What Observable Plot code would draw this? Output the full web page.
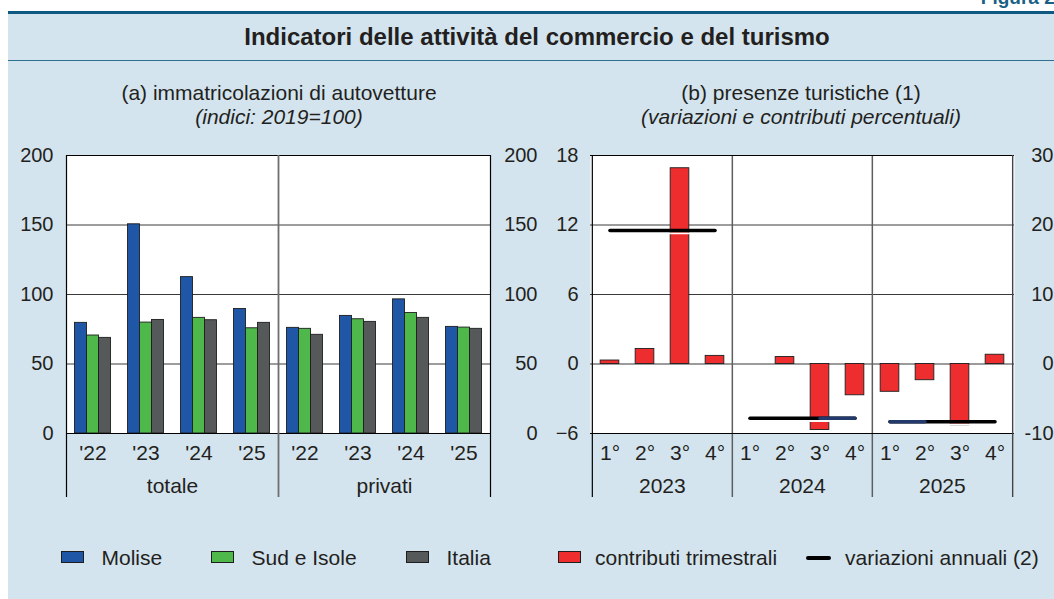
<!DOCTYPE html>
<html><head><meta charset="utf-8">
<script src="https://cdn.jsdelivr.net/npm/d3@7"></script>
<script src="https://cdn.jsdelivr.net/npm/@observablehq/plot@0.6"></script>
<style>
html,body{margin:0;padding:0;overflow:hidden;background:#fff}
#root{position:relative;width:1054px;height:599px;font-family:"Liberation Sans",Arial,sans-serif;color:#231f20;overflow:hidden}
</style></head><body><div id="root"></div>
<script>
// ---------- data: panel (a) ----------
const groups = ["totale", "privati"];
const years = ["'22", "'23", "'24", "'25"];
const series = ["Molise", "Sud e Isole", "Italia"];
const molise = [79.6, 150.5, 112.5, 89.6, 76.0, 84.6, 96.5, 76.7];
const sud    = [70.5, 79.8, 83.2, 75.7, 75.3, 82.2, 86.7, 76.2];
const italia = [68.8, 81.7, 81.5, 79.6, 71.0, 80.3, 83.2, 75.3];
const yTicksA = [0, 50, 100, 150, 200];

// ---------- data: panel (b) ----------
const years2 = ["2023", "2024", "2025"];
const quarters = ["1°", "2°", "3°", "4°"];
const contributi = [0.3, 1.3, 16.9, 0.7, 0.0, 0.6, -5.7, -2.7, -2.4, -1.4, -5.3, 0.8];
const variazioni = [19.2, -7.8, -8.3];
const yTicksB = [-6, 0, 6, 12, 18];
const yTicksB2 = [-10, 0, 10, 20, 30];
const navySpans = [["2024", "3°", "4°"], ["2025", "1°", "2°"]];

// ---------- styles ----------
const seriesColors = ["#1f56a5", "#4fb84b", "#56595a"];
const red = "#ee2d2e";
const bg = "#d3e4ee";
const ink = "#231f20";

const root = document.getElementById("root");
function el(tag, css, text) {
  const e = document.createElement(tag);
  e.style.cssText = css;
  if (text != null) e.textContent = text;
  root.appendChild(e);
  return e;
}
// background and rules
el("div", `position:absolute;left:8px;top:12px;right:0;bottom:0;background:${bg}`);
el("div", "position:absolute;left:8px;top:10.5px;right:0;height:3px;background:#0f5a82");
el("div", "position:absolute;left:8px;top:59.5px;right:0;height:1.5px;background:#2e6f8f");
el("div", "position:absolute;right:-6px;top:-12px;font-weight:bold;font-size:19px;line-height:19px;color:#1a5f86;white-space:nowrap", "Figura 2.");
// titles
el("div", "position:absolute;left:537px;top:25px;transform:translateX(-50%);font-weight:bold;font-size:24px;line-height:24px;white-space:nowrap", "Indicatori delle attività del commercio e del turismo");
el("div", "position:absolute;left:279px;top:81.5px;transform:translateX(-50%);font-size:21px;line-height:21px;white-space:nowrap", "(a) immatricolazioni di autovetture");
el("div", "position:absolute;left:279px;top:105.5px;transform:translateX(-50%);font-size:21px;line-height:21px;font-style:italic;white-space:nowrap", "(indici: 2019=100)");
el("div", "position:absolute;left:801px;top:81.5px;transform:translateX(-50%);font-size:21px;line-height:21px;white-space:nowrap", "(b) presenze turistiche (1)");
el("div", "position:absolute;left:801px;top:105.5px;transform:translateX(-50%);font-size:21px;line-height:21px;font-style:italic;white-space:nowrap", "(variazioni e contributi percentuali)");

// ---------- panel (a) ----------
const W_A = 545, H = 370, mT = 15, mB = 77, mL_A = 66, mR_A = 55;
const keysA = groups.flatMap(g => years.map(y => g + "|" + y));
const valuesA = [molise, sud, italia];
const rowsA = series.flatMap((s, si) => keysA.map((k, ki) => ({key: k, series: s, si, value: valuesA[si][ki]})));
const bwA = (W_A - mL_A - mR_A) / keysA.length;
const barWA = 12;
const padA = (bwA - series.length * barWA) / 2;

const plotStyle = {fontFamily: '"Liberation Sans", Arial, sans-serif', fontSize: "20px", color: ink, background: "transparent", overflow: "visible"};

const plotA = Plot.plot({
  width: W_A, height: H,
  marginTop: mT, marginBottom: mB, marginLeft: mL_A, marginRight: mR_A,
  style: plotStyle,
  x: {type: "band", domain: keysA, padding: 0, axis: null},
  y: {domain: [0, 200], axis: null},
  marks: [
    Plot.frame({fill: "white", stroke: "none"}),
    Plot.ruleY([50, 100, 150], {stroke: "#3a3a3a", strokeWidth: 1}),
    ...series.map((s, si) => Plot.barY(rowsA.filter(d => d.si === si), {
      x: "key", y: "value", fill: seriesColors[si], stroke: "#1e1e1e", strokeWidth: 0.9,
      insetLeft: padA + si * barWA, insetRight: bwA - padA - (si + 1) * barWA
    })),
    Plot.ruleY([0], {stroke: "#000", strokeWidth: 1.2}),
    Plot.ruleY([200], {stroke: "#000", strokeWidth: 1.2}),
    Plot.ruleX([keysA[0]], {dx: -bwA / 2, stroke: "#000", strokeWidth: 1.2, insetBottom: -64}),
    Plot.ruleX([keysA[4]], {dx: -bwA / 2, stroke: "#6e6e6e", strokeWidth: 1.8, insetBottom: -64}),
    Plot.ruleX([keysA[7]], {dx: bwA / 2, stroke: "#000", strokeWidth: 1.2, insetBottom: -64}),
    Plot.axisX({domain: keysA, tickFormat: d => d.split("|")[1], tickSize: 0, tickPadding: 12, fontSize: 21, label: null}),
    Plot.text(groups, {x: g => g + "|" + years[2], dx: -bwA / 2, frameAnchor: "bottom", dy: 59, text: d => d, fontSize: 21, fill: ink}),
    Plot.axisY({anchor: "left", ticks: yTicksA, tickSize: 0, tickPadding: 13, fontSize: 20, label: null}),
    Plot.axisY({anchor: "right", ticks: yTicksA, tickSize: 0, tickPadding: 47, textAnchor: "end", fontSize: 20, label: null})
  ]
});
plotA.style.position = "absolute"; plotA.style.left = "0px"; plotA.style.top = "140px";
root.appendChild(plotA);

// ---------- panel (b) ----------
const W_B = 509, mL_B = 45, mR_B = 40;
const ratio = yTicksB[yTicksB.length - 1] / yTicksB2[yTicksB2.length - 1];
const keysB = years2.flatMap(y => quarters.map(q => y + "|" + q));
const rowsB = keysB.map((k, i) => ({key: k, value: contributi[i]}));
const annualRows = years2.flatMap((y, i) => quarters.map(q => ({key: y + "|" + q, year: y, value: variazioni[i] * ratio})));
const navyRows = navySpans.flatMap(([y, q1, q2], i) => [q1, q2].map(q => ({key: y + "|" + q, seg: i, value: variazioni[years2.indexOf(y)] * ratio})));
const bwB = (W_B - mL_B - mR_B) / keysB.length;
const barWB = 19;
const insB = (bwB - barWB) / 2;

const plotB = Plot.plot({
  width: W_B, height: H,
  marginTop: mT, marginBottom: mB, marginLeft: mL_B, marginRight: mR_B,
  style: plotStyle,
  x: {type: "band", domain: keysB, padding: 0, axis: null},
  y: {domain: [yTicksB[0], yTicksB[yTicksB.length - 1]], axis: null},
  marks: [
    Plot.frame({fill: "white", stroke: "none"}),
    Plot.ruleY([6, 12], {stroke: "#3a3a3a", strokeWidth: 1}),
    Plot.ruleY([0], {stroke: "#7a7a7a", strokeWidth: 1.3}),
    Plot.ruleX([keysB[4], keysB[8]], {dx: -bwB / 2, stroke: "#5e5e5e", strokeWidth: 1.5, insetBottom: -64}),
    Plot.barY(rowsB, {x: "key", y: "value", fill: red, stroke: "#1e1e1e", strokeWidth: 0.9, insetLeft: insB, insetRight: insB}),
    Plot.lineY(annualRows, {x: "key", y: "value", z: "year", stroke: "white", strokeWidth: 1.8, dy: 2.8}),
    Plot.lineY(annualRows, {x: "key", y: "value", z: "year", stroke: "#000", strokeWidth: 3.6}),
    Plot.lineY(navyRows, {x: "key", y: "value", z: "seg", stroke: "#22396b", strokeWidth: 3.4}),
    Plot.ruleY([yTicksB[yTicksB.length - 1]], {stroke: "#000", strokeWidth: 1.2}),
    Plot.ruleY([yTicksB[0]], {stroke: "#000", strokeWidth: 1.2}),
    Plot.ruleX([keysB[0]], {dx: -bwB / 2, stroke: "#000", strokeWidth: 1.2, insetBottom: -64}),
    Plot.ruleX([keysB[keysB.length - 1]], {dx: bwB / 2, stroke: "#444", strokeWidth: 1.4, insetBottom: -64}),
    Plot.axisX({domain: keysB, tickFormat: d => d.split("|")[1], tickSize: 0, tickPadding: 12, fontSize: 21, label: null}),
    Plot.text(years2, {x: y => y + "|" + quarters[2], dx: -bwB / 2, frameAnchor: "bottom", dy: 59, text: d => d, fontSize: 21, fill: ink}),
    Plot.axisY({anchor: "left", ticks: yTicksB, tickSize: 0, tickPadding: 12, fontSize: 20, label: null}),
    Plot.axisY({anchor: "right", ticks: yTicksB2.map(v => v * ratio), tickFormat: d => String(Math.round(d / ratio)), tickSize: 0, tickPadding: 39, textAnchor: "end", fontSize: 20, label: null})
  ]
});
plotB.style.position = "absolute"; plotB.style.left = "545px"; plotB.style.top = "140px";
root.appendChild(plotB);

// ---------- legend ----------
const legendItems = [
  {label: series[0], color: seriesColors[0], sx: 61, tx: 101.5},
  {label: series[1], color: seriesColors[1], sx: 211, tx: 251.5},
  {label: series[2], color: seriesColors[2], sx: 406, tx: 446.5},
  {label: "contributi trimestrali", color: red, sx: 557.5, tx: 595}
];
for (const it of legendItems) {
  el("div", `position:absolute;left:${it.sx}px;top:551px;width:23px;height:12px;box-sizing:border-box;background:${it.color};border:1px solid #1e1e1e`);
  el("div", `position:absolute;left:${it.tx}px;top:546.5px;font-size:21px;line-height:21px;white-space:nowrap`, it.label);
}
el("div", "position:absolute;left:806px;top:555.8px;width:25px;height:4px;background:#000;border-radius:2px");
el("div", "position:absolute;left:845px;top:546.5px;font-size:21px;line-height:21px;white-space:nowrap", "variazioni annuali (2)");
</script>
</body></html>
